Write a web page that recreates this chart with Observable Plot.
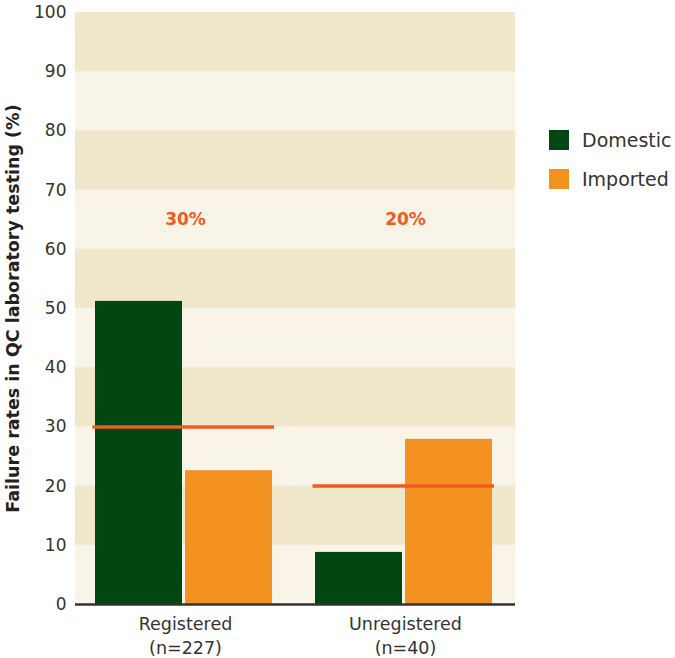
<!DOCTYPE html>
<html>
<head>
<meta charset="utf-8">
<script src="https://cdn.jsdelivr.net/npm/d3@7"></script>
<script src="https://cdn.jsdelivr.net/npm/@observablehq/plot@0.6"></script>
<style>
  body { margin: 0; background: #fff; }
  #wrap { position: relative; width: 675px; height: 658px; font-family: "DejaVu Sans", sans-serif; }
  #legend { position: absolute; left: 549px; top: 128px; }
  .item { display: flex; align-items: center; height: 24px; margin-bottom: 15px; font-size: 19px; color: #333; }
  .sw { width: 20px; height: 20px; margin-right: 13px; }
</style>
</head>
<body>
<div id="wrap"><div id="chart"></div><div id="legend"></div></div>
<script>
const groups = ["Registered", "Unregistered"];
const groupNotes = ["(n=227)", "(n=40)"];
const types = ["Domestic", "Imported"];
const domestic = [51.2, 8.8];
const imported = [22.6, 27.9];
const overall = [30, 20];
const overallLabels = ["30%", "20%"];
const yTicks = [0, 10, 20, 30, 40, 50, 60, 70, 80, 90, 100];
const darkBands = [10, 30, 50, 70, 90];
const colors = ["#024711", "#f39220"];
const bandLight = "#f8f4e8";
const bandDark = "#f1e7ca";
const accent = "#f15a22";

const bars = [];
groups.forEach((g, i) => {
  bars.push({group: g, type: types[0], value: domestic[i]});
  bars.push({group: g, type: types[1], value: imported[i]});
});
const refs = groups.map((g, i) => ({group: g, value: overall[i], label: overallLabels[i], note: g + "\n" + groupNotes[i]}));
const bands = darkBands.map(v => ({y1: v, y2: v + 10}));

const chart = Plot.plot({
  width: 675,
  height: 658,
  marginLeft: 75,
  marginRight: 160,
  marginTop: 12,
  marginBottom: 54,
  style: {fontFamily: "DejaVu Sans, sans-serif", fontSize: "17px", color: "#333", background: "transparent", overflow: "visible"},
  fx: {domain: groups, paddingInner: 0, paddingOuter: 0, axis: null, label: null},
  x: {domain: types, paddingInner: 3 / 91, paddingOuter: 0.2253, align: 0.463, axis: null},
  y: {domain: [0, 100], ticks: yTicks, tickSize: 0, tickPadding: 9, label: "Failure rates in QC laboratory testing (%)", labelAnchor: "center", labelOffset: 69},
  color: {domain: types, range: colors},
  marks: [
    Plot.frame({fill: bandLight}),
    Plot.rectY(bands, {y1: "y1", y2: "y2", fill: bandDark}),
    Plot.barY(bars, {fx: "group", x: "type", y: "value", fill: "type"}),
    Plot.tickY(refs, {fx: "group", y: "value", stroke: accent, strokeWidth: 3.5, insetLeft: 17.5, insetRight: 21}),
    Plot.text(refs, {fx: "group", text: "label", frameAnchor: "top", dy: 200, fill: accent, fontWeight: "bold", fontSize: 17}),
    Plot.text(refs, {fx: "group", text: "note", frameAnchor: "bottom", dy: 9, lineAnchor: "top", lineHeight: 1.35, fill: "#333", fontSize: 17.5}),
    Plot.ruleY([0], {stroke: "#333", strokeWidth: 2.5})
  ]
});
document.getElementById("chart").appendChild(chart);
chart.querySelectorAll("text").forEach(t => {
  if (t.textContent.includes("Failure rates")) {
    t.textContent = t.textContent.replace(/\s*[↑→←↓]\s*/g, "");
    t.setAttribute("font-weight", "bold");
    t.setAttribute("font-size", "17.5");
    t.style.fontWeight = "bold";
    t.style.fontSize = "17.5px";
    t.setAttribute("fill", "#222");
  }
});

const legend = document.getElementById("legend");
types.forEach((t, i) => {
  const it = document.createElement("div");
  it.className = "item";
  const sw = document.createElement("div");
  sw.className = "sw";
  sw.style.background = colors[i];
  const lab = document.createElement("span");
  lab.textContent = t;
  it.appendChild(sw); it.appendChild(lab);
  legend.appendChild(it);
});
</script>
</body>
</html>
